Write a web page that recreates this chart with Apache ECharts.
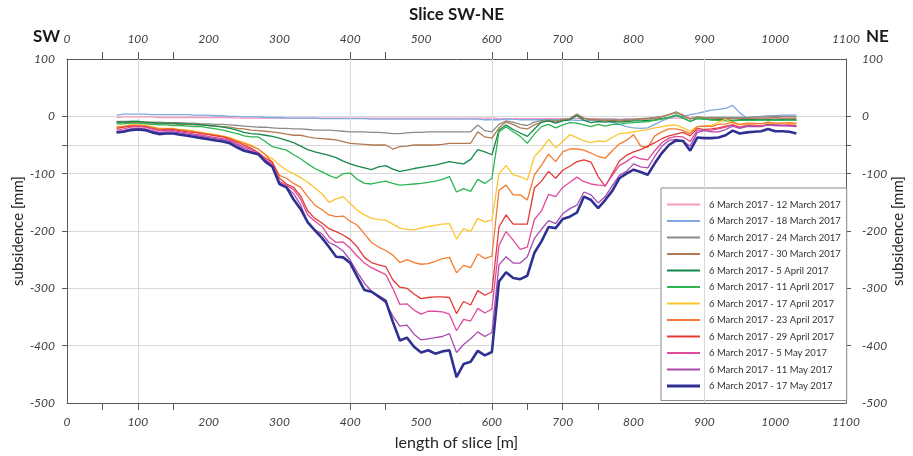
<!DOCTYPE html>
<html>
<head>
<meta charset="utf-8">
<script src="https://cdn.jsdelivr.net/npm/echarts@6/dist/echarts.min.js"></script>
<style>
  html, body { margin: 0; padding: 0; background: #ffffff; }
  #chart { width: 913px; height: 456px; }
</style>
</head>
<body>
<div id="chart"></div>
<script>
// Distance along the SW-NE slice [m]
const distance = [
  70, 80, 90, 100, 110, 120, 130, 140, 150, 160,
  170, 180, 190, 200, 210, 220, 230, 240, 250, 260,
  270, 280, 290, 300, 310, 320, 330, 340, 350, 360,
  370, 380, 390, 400, 410, 420, 430, 440, 450, 460,
  470, 480, 490, 500, 510, 520, 530, 540, 550, 560,
  570, 580, 590, 600, 610, 620, 630, 640, 650, 660,
  670, 680, 690, 700, 710, 720, 730, 740, 750, 760,
  770, 780, 790, 800, 810, 820, 830, 840, 850, 860,
  870, 880, 890, 900, 910, 920, 930, 940, 950, 960,
  970, 980, 990, 1000, 1010, 1020, 1030
];

// Cumulative subsidence [mm] since 6 March 2017, one array per acquisition
const mar12 = [
  -2, -1, -1, -1, -1, -1, -2, -2, -2, -2,
  -2, -2, -2, -2, -2, -2, -2, -3, -3, -3,
  -3, -3, -3, -3, -3, -3, -3, -3, -3, -3,
  -3, -3, -3, -3, -3, -3, -3, -3, -3, -3,
  -3, -3, -3, -3, -3, -3, -3, -3, -3, -3,
  -3, -3, -3, -3, -4, -4, -4, -4, -4, -4,
  -4, -4, -4, -4, -4, -4, -4, -4, -5, -5,
  -5, -5, -5, -5, -5, -5, -4, -4, -3, -3,
  -3, -3, -3, -3, -3, -3, -3, -3, -3, -3,
  -3, -3, -3, -3, -3, -3, -3
];
const mar18 = [
  2, 4, 4, 4, 4, 3, 3, 3, 3, 3,
  3, 2, 2, 2, 1, 1, 0, 0, -1, -1,
  -1, -2, -2, -2, -3, -3, -3, -3, -3, -4,
  -4, -4, -4, -4, -4, -4, -5, -5, -5, -5,
  -5, -5, -5, -5, -5, -5, -5, -5, -5, -5,
  -5, -5, -6, -6, -6, -5, -5, -6, -6, -6,
  -6, -6, -6, -6, -6, -7, -7, -7, -7, -8,
  -10, -14, -18, -20, -21, -20, -14, -8, -3, 0,
  0, 3, 5, 8, 11, 12, 14, 19, 6, -3,
  -1, 0, 1, 1, 2, 2, 2
];
const mar24 = [
  -9, -9, -9, -9, -10, -10, -10, -11, -11, -11,
  -12, -12, -13, -13, -14, -14, -15, -16, -17, -18,
  -19, -19, -20, -21, -21, -22, -22, -23, -24, -24,
  -24, -25, -26, -27, -27, -27, -28, -28, -29, -30,
  -30, -29, -28, -28, -27, -27, -27, -27, -27, -27,
  -27, -15, -25, -27, -14, -8, -10, -14, -16, -10,
  -7, -6, -8, -5, -4, 4, -3, -5, -5, -5,
  -5, -6, -5, -5, -4, -3, -2, 0, 3, 6,
  1, -4, -1, -2, -2, -2, -2, -2, -2, -2,
  -1, -1, -1, 0, 0, 0, 0
];
const mar30 = [
  -11, -11, -11, -11, -12, -12, -13, -13, -13, -14,
  -14, -15, -15, -16, -17, -18, -19, -21, -22, -24,
  -25, -26, -27, -29, -31, -33, -33, -36, -38, -39,
  -40, -41, -44, -47, -48, -49, -50, -50, -50, -57,
  -53, -52, -50, -50, -50, -50, -49, -47, -47, -47,
  -47, -27, -36, -38, -20, -10, -14, -20, -22, -15,
  -10, -8, -10, -6, -5, 3, -4, -6, -6, -7,
  -7, -8, -7, -6, -5, -4, -3, -1, 3, 8,
  2, -5, -1, -3, -3, -4, -4, -4, -4, -4,
  -3, -3, -3, -2, -3, -3, -3
];
const apr05 = [
  -10, -10, -9, -9, -10, -11, -12, -12, -12, -13,
  -13, -14, -15, -16, -17, -19, -21, -24, -28, -30,
  -31, -33, -35, -38, -42, -46, -52, -58, -62, -65,
  -68, -72, -78, -83, -87, -90, -93, -88, -86, -92,
  -96, -94, -91, -89, -87, -85, -82, -79, -81, -83,
  -75, -58, -62, -67, -24, -15, -23, -29, -35, -22,
  -10, -8, -12, -8, -6, 1, -7, -11, -9, -10,
  -9, -10, -9, -8, -8, -7, -6, -4, -2, 2,
  -3, -9, -4, -5, -6, -6, -6, -7, -6, -6,
  -6, -6, -6, -6, -6, -6, -6
];
const apr11 = [
  -13, -13, -12, -12, -13, -14, -15, -15, -16, -16,
  -17, -18, -18, -20, -22, -24, -27, -30, -34, -36,
  -36, -44, -53, -56, -59, -67, -74, -83, -91, -97,
  -103, -108, -100, -99, -110, -117, -118, -115, -113, -117,
  -120, -119, -118, -117, -115, -113, -110, -105, -132, -126,
  -131, -110, -117, -108, -27, -18, -27, -35, -47, -31,
  -18, -14, -20, -15, -11, -12, -15, -18, -14, -17,
  -14, -14, -12, -11, -10, -9, -7, -5, -2, 2,
  -2, -9, -3, -5, -6, -7, -8, -8, -7, -7,
  -7, -6, -7, -6, -7, -6, -7
];
const apr17 = [
  -18, -17, -15, -15, -16, -18, -21, -21, -21, -23,
  -24, -26, -28, -30, -32, -34, -37, -42, -46, -50,
  -57, -66, -74, -85, -94, -100, -107, -115, -125, -135,
  -150, -144, -140, -152, -164, -172, -178, -180, -181, -188,
  -195, -197, -198, -195, -192, -190, -188, -187, -214, -196,
  -201, -178, -184, -181, -100, -86, -102, -105, -111, -70,
  -57, -40, -55, -44, -32, -37, -43, -46, -43, -44,
  -37, -30, -29, -27, -25, -23, -20, -18, -16, -15,
  -20, -26, -18, -17, -16, -10, -5, -12, -15, -14,
  -13, -13, -12, -13, -12, -12, -13
];
const apr23 = [
  -19, -18, -16, -16, -17, -19, -22, -22, -22, -24,
  -25, -27, -29, -31, -33, -35, -38, -43, -47, -52,
  -57, -67, -80, -103, -108, -117, -124, -140, -155, -163,
  -172, -175, -174, -183, -190, -205, -220, -228, -234, -242,
  -255, -250, -255, -258, -257, -253, -248, -246, -273, -260,
  -264, -240, -248, -244, -129, -120, -137, -137, -146, -102,
  -85, -66, -79, -62, -57, -57, -59, -64, -70, -73,
  -60, -48, -42, -32, -52, -54, -34, -27, -22, -22,
  -25, -30, -18, -17, -18, -14, -13, -10, -14, -12,
  -12, -13, -10, -12, -12, -11, -12
];
const apr29 = [
  -21, -19, -17, -17, -18, -21, -24, -23, -23, -25,
  -27, -28, -30, -32, -34, -36, -40, -45, -50, -56,
  -63, -73, -80, -108, -118, -124, -139, -165, -178, -186,
  -196, -201, -207, -215, -228, -246, -255, -259, -262, -285,
  -298, -300, -310, -318, -316, -315, -315, -316, -344, -323,
  -329, -304, -312, -306, -193, -172, -188, -188, -188, -125,
  -113, -96, -108, -94, -87, -79, -76, -80, -105, -122,
  -100, -78, -68, -62, -58, -52, -46, -39, -34, -31,
  -28, -34, -21, -23, -22, -20, -17, -15, -19, -16,
  -16, -17, -15, -16, -16, -15, -16
];
const may05 = [
  -24, -22, -19, -18, -19, -22, -25, -25, -25, -27,
  -29, -31, -33, -35, -37, -39, -42, -48, -53, -58,
  -64, -76, -83, -114, -120, -128, -145, -172, -183, -192,
  -210, -220, -219, -230, -244, -256, -264, -270, -276, -300,
  -328, -327, -338, -345, -340, -340, -341, -345, -374, -354,
  -357, -335, -343, -336, -225, -201, -216, -232, -228, -180,
  -165, -136, -140, -124, -115, -106, -114, -118, -120, -121,
  -103, -86, -79, -70, -74, -76, -60, -46, -38, -35,
  -36, -44, -24, -24, -24, -22, -19, -15, -19, -16,
  -16, -17, -14, -15, -16, -16, -17
];
const may11 = [
  -27, -25, -22, -21, -22, -25, -28, -27, -27, -29,
  -31, -33, -35, -37, -39, -41, -44, -50, -56, -61,
  -65, -78, -86, -118, -123, -135, -155, -185, -198, -205,
  -220, -226, -235, -251, -272, -291, -305, -316, -325, -348,
  -366, -364, -380, -390, -388, -386, -384, -379, -412, -398,
  -388, -376, -384, -377, -259, -245, -256, -256, -245, -213,
  -197, -182, -187, -170, -161, -155, -132, -137, -151, -140,
  -121, -103, -96, -83, -88, -90, -70, -52, -42, -40,
  -44, -52, -28, -25, -27, -27, -23, -17, -21, -18,
  -18, -18, -14, -16, -16, -17, -18
];
const may17 = [
  -28, -27, -24, -23, -24, -28, -31, -30, -30, -32,
  -34, -36, -38, -40, -42, -44, -47, -54, -60, -63,
  -66, -79, -88, -118, -124, -145, -162, -185, -199, -212,
  -228, -245, -246, -256, -280, -303, -306, -314, -322, -358,
  -391, -386, -402, -412, -408, -414, -410, -408, -455, -432,
  -428, -409, -417, -411, -288, -272, -282, -284, -278, -238,
  -218, -193, -195, -179, -175, -168, -140, -146, -160, -146,
  -130, -108, -100, -93, -97, -102, -82, -64, -50, -42,
  -43, -60, -37, -38, -38, -37, -33, -25, -30, -28,
  -27, -26, -22, -26, -26, -27, -30
];

// Legend labels, in acquisition order
const periods = [
  '6 March 2017 - 12 March 2017',
  '6 March 2017 - 18 March 2017',
  '6 March 2017 - 24 March 2017',
  '6 March 2017 - 30 March 2017',
  '6 March 2017 - 5 April 2017',
  '6 March 2017 - 11 April 2017',
  '6 March 2017 - 17 April 2017',
  '6 March 2017 - 23 April 2017',
  '6 March 2017 - 29 April 2017',
  '6 March 2017 - 5 May 2017',
  '6 March 2017 - 11 May 2017',
  '6 March 2017 - 17 May 2017'
];
const profiles = [mar12, mar18, mar24, mar30, apr05, apr11, apr17, apr23, apr29, may05, may11, may17];
const colors = [
  '#f49ac1', '#80a8e0', '#8c8c8c', '#b27a52', '#16884a', '#2db552',
  '#fcc52e', '#f47c30', '#e33a36', '#e04a9e', '#a94bb0', '#2e3192'
];

// Reference lines along the slice and axis tick positions
const gridDistances = [100, 400, 600, 700, 900];
const distanceTicks = [50, 100, 150, 400, 450, 600, 650, 700, 750];
const depthTicks = [0, -50, -100, -200, -300, -400];

const FONT = 'Lato, "Open Sans", sans-serif';
const chart = echarts.init(document.getElementById('chart'), null, { renderer: 'canvas' });

const lastIndex = periods.length - 1;
const lineWidth = i => (i === lastIndex ? 2.6 : 1.3);
const legendWidth = i => (i === lastIndex ? 3 : 2);

const lineSeries = periods.map((name, i) => ({
  name: name,
  type: 'line',
  xAxisIndex: 0,
  yAxisIndex: 0,
  data: distance.map((d, k) => [d, profiles[i][k]]),
  showSymbol: false,
  symbol: 'none',
  smooth: false,
  z: 3 + i,
  lineStyle: { color: colors[i], width: lineWidth(i) },
  itemStyle: { color: colors[i] },
  emphasis: { disabled: true }
}));

const gridSeries = {
  name: 'grid',
  type: 'line',
  xAxisIndex: 0,
  yAxisIndex: 0,
  data: [],
  z: 1,
  silent: true,
  markLine: {
    silent: true,
    symbol: ['none', 'none'],
    label: { show: false },
    lineStyle: { color: '#d9d9d9', type: 'solid', width: 1 },
    data: gridDistances.map(v => ({ xAxis: v }))
  }
};

const plain = v => String(v);
const labelStyle = { fontFamily: FONT, fontStyle: 'italic', fontSize: 12, color: '#404040', formatter: plain };

chart.setOption({
  animation: false,
  backgroundColor: '#ffffff',
  title: {
    text: 'Slice SW-NE',
    left: 'center',
    top: 1,
    textStyle: { fontFamily: FONT, fontWeight: 'bold', fontSize: 17, color: '#1a1a1a' }
  },
  graphic: [
    { type: 'text', left: 33, top: 28, style: { text: 'SW', font: 'bold 17px ' + FONT, fill: '#1a1a1a' } },
    { type: 'text', left: 866, top: 28, style: { text: 'NE', font: 'bold 17px ' + FONT, fill: '#1a1a1a' } }
  ],
  grid: { left: 67, right: 67, top: 59, bottom: 53, containLabel: false, outerBoundsMode: 'none' },
  legend: {
    orient: 'vertical',
    left: 661,
    top: 188,
    data: periods.map((name, i) => ({
      name: name,
      icon: 'path://M0,0H33V' + legendWidth(i) + 'H0Z',
      itemStyle: { color: colors[i] }
    })),
    itemWidth: 33,
    itemHeight: 10,
    itemGap: 5.5,
    padding: [11, 6, 9, 6],
    backgroundColor: '#ffffff',
    borderColor: '#8c8c8c',
    borderWidth: 1,
    selectedMode: false,
    textStyle: { fontFamily: FONT, fontSize: 9.5, lineHeight: 11, color: '#333333', padding: [0, 0, 0, 4] }
  },
  xAxis: [
    {
      type: 'value', position: 'bottom', min: 0, max: 1100, interval: 100,
      axisLine: { show: true, onZero: false, lineStyle: { color: '#595959', width: 1 } },
      axisTick: { show: true, inside: false, length: 7, customValues: distanceTicks, lineStyle: { color: '#595959' } },
      axisLabel: Object.assign({ margin: 13 }, labelStyle),
      splitLine: { show: false },
      name: 'length of slice [m]',
      nameLocation: 'middle',
      nameGap: 32,
      nameTextStyle: { fontFamily: FONT, fontSize: 16, color: '#262626' }
    },
    {
      type: 'value', position: 'top', min: 0, max: 1100, interval: 100,
      axisLine: { show: true, onZero: false, lineStyle: { color: '#595959', width: 1 } },
      axisTick: { show: true, inside: false, length: 7, customValues: distanceTicks, lineStyle: { color: '#595959' } },
      axisLabel: Object.assign({ margin: 14 }, labelStyle),
      splitLine: { show: false }
    }
  ],
  yAxis: [
    {
      type: 'value', position: 'left', min: -500, max: 100, interval: 100,
      axisLine: { show: true, onZero: false, lineStyle: { color: '#595959', width: 1 } },
      axisTick: { show: true, length: 5, customValues: depthTicks, lineStyle: { color: '#595959' } },
      axisLabel: Object.assign({ margin: 12 }, labelStyle),
      splitLine: { show: true, lineStyle: { color: '#d9d9d9', width: 1 } },
      name: 'subsidence [mm]',
      nameLocation: 'middle',
      nameMoveOverlap: false,
      nameGap: 41,
      nameTextStyle: { fontFamily: FONT, fontSize: 15, color: '#262626' }
    },
    {
      type: 'value', position: 'right', min: -500, max: 100, interval: 100,
      axisLine: { show: true, onZero: false, lineStyle: { color: '#595959', width: 1 } },
      axisTick: { show: true, length: 5, customValues: depthTicks, lineStyle: { color: '#595959' } },
      axisLabel: Object.assign({ margin: 16 }, labelStyle),
      splitLine: { show: false },
      name: 'subsidence [mm]',
      nameLocation: 'middle',
      nameMoveOverlap: false,
      nameGap: 45,
      nameRotate: 90,
      nameTextStyle: { fontFamily: FONT, fontSize: 15, color: '#262626' }
    }
  ],
  series: [gridSeries].concat(lineSeries)
});
</script>
</body>
</html>
